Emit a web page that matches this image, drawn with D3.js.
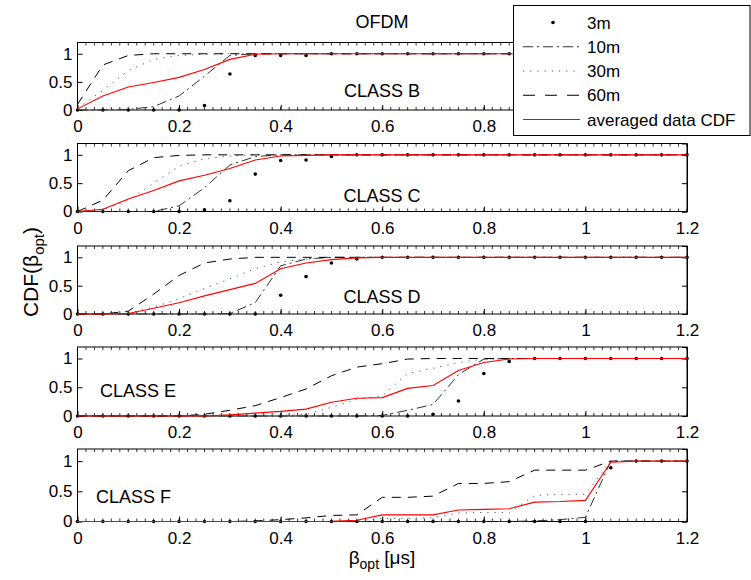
<!DOCTYPE html>
<html>
<head>
<meta charset="utf-8">
<script src="https://cdn.jsdelivr.net/npm/d3@7"></script>
<style>
  body { margin: 0; background: #fff; }
  text { font-family: "Liberation Sans", Arial, Helvetica, sans-serif; fill: #000; }
</style>
</head>
<body>
<div id="wrapper"></div>
<script>
// beta_opt grid [us]
const beta = [0, 0.05, 0.1, 0.15, 0.2, 0.25, 0.3, 0.35, 0.4, 0.45, 0.5, 0.55, 0.6,
  0.65, 0.7, 0.75, 0.8, 0.85, 0.9, 0.95, 1, 1.05, 1.1, 1.15, 1.2];

const classes = ["CLASS B", "CLASS C", "CLASS D", "CLASS E", "CLASS F"];
const seriesNames = ["3m", "10m", "30m", "60m", "averaged data CDF"];
const xTicks = [0, 0.2, 0.4, 0.6, 0.8, 1, 1.2];
const yTicks = [0, 0.5, 1];

const cdf3m = [
  [0, 0, 0, 0, 0, 0.08, 0.64, 0.97, 0.97, 0.97, 1, 1, 1, 1, 1, 1, 1, 1, 1, 1, 1, 1, 1, 1, 1],
  [0, 0, 0, 0, 0, 0.03, 0.19, 0.66, 0.9, 0.91, 0.97, 1, 1, 1, 1, 1, 1, 1, 1, 1, 1, 1, 1, 1, 1],
  [0, 0, 0, 0, 0, 0, 0, 0, 0.33, 0.66, 0.9, 0.97, 1, 1, 1, 1, 1, 1, 1, 1, 1, 1, 1, 1, 1],
  [0, 0, 0, 0, 0, 0, 0, 0, 0, 0, 0, 0, 0, 0, 0.03, 0.26, 0.74, 0.95, 1, 1, 1, 1, 1, 1, 1],
  [0, 0, 0, 0, 0, 0, 0, 0, 0, 0, 0, 0, 0, 0, 0, 0, 0, 0, 0, 0, 0, 0.89, 1, 1, 1],
];
const cdf10m = [
  [0, 0, 0.01, 0.06, 0.25, 0.6, 0.97, 1, 1, 1, 1, 1, 1, 1, 1, 1, 1, 1, 1, 1, 1, 1, 1, 1, 1],
  [0, 0, 0, 0, 0.1, 0.42, 0.82, 0.97, 1, 1, 1, 1, 1, 1, 1, 1, 1, 1, 1, 1, 1, 1, 1, 1, 1],
  [0, 0, 0, 0, 0, 0, 0.01, 0.2, 0.85, 0.97, 1, 1, 1, 1, 1, 1, 1, 1, 1, 1, 1, 1, 1, 1, 1],
  [0, 0, 0, 0, 0, 0, 0, 0, 0, 0, 0, 0, 0.01, 0.1, 0.2, 0.72, 0.99, 1, 1, 1, 1, 1, 1, 1, 1],
  [0, 0, 0, 0, 0, 0, 0, 0, 0, 0, 0, 0, 0, 0, 0, 0, 0, 0, 0.01, 0.03, 0.07, 1, 1, 1, 1],
];
const cdf30m = [
  [0.03, 0.35, 0.7, 0.9, 0.97, 0.99, 1, 1, 1, 1, 1, 1, 1, 1, 1, 1, 1, 1, 1, 1, 1, 1, 1, 1, 1],
  [0, 0.03, 0.2, 0.5, 0.8, 0.93, 0.98, 1, 1, 1, 1, 1, 1, 1, 1, 1, 1, 1, 1, 1, 1, 1, 1, 1, 1],
  [0, 0, 0.01, 0.12, 0.27, 0.45, 0.62, 0.8, 0.92, 0.97, 1, 1, 1, 1, 1, 1, 1, 1, 1, 1, 1, 1, 1, 1, 1],
  [0, 0, 0, 0, 0, 0, 0, 0, 0.01, 0.03, 0.15, 0.29, 0.35, 0.74, 0.83, 0.93, 0.99, 1, 1, 1, 1, 1, 1, 1, 1],
  [0, 0, 0, 0, 0, 0, 0, 0, 0, 0, 0, 0.01, 0.05, 0.05, 0.06, 0.14, 0.15, 0.15, 0.43, 0.45, 0.45, 1, 1, 1, 1],
];
const cdf60m = [
  [0.1, 0.8, 0.97, 1, 1, 1, 1, 1, 1, 1, 1, 1, 1, 1, 1, 1, 1, 1, 1, 1, 1, 1, 1, 1, 1],
  [0, 0.2, 0.72, 0.95, 0.99, 1, 1, 1, 1, 1, 1, 1, 1, 1, 1, 1, 1, 1, 1, 1, 1, 1, 1, 1, 1],
  [0, 0, 0.05, 0.35, 0.68, 0.9, 0.97, 1, 1, 1, 1, 1, 1, 1, 1, 1, 1, 1, 1, 1, 1, 1, 1, 1, 1],
  [0, 0, 0, 0, 0, 0.03, 0.1, 0.18, 0.32, 0.47, 0.7, 0.85, 0.91, 0.99, 1, 1, 1, 1, 1, 1, 1, 1, 1, 1, 1],
  [0, 0, 0, 0, 0, 0, 0, 0.01, 0.03, 0.06, 0.1, 0.11, 0.4, 0.4, 0.42, 0.63, 0.63, 0.66, 0.85, 0.85, 0.85, 1, 1, 1, 1],
];
const cdfAvg = [
  [0.02, 0.25, 0.41, 0.49, 0.58, 0.72, 0.9, 0.99, 1, 1, 1, 1, 1, 1, 1, 1, 1, 1, 1, 1, 1, 1, 1, 1, 1],
  [0, 0.04, 0.22, 0.37, 0.54, 0.64, 0.76, 0.91, 0.98, 0.99, 1, 1, 1, 1, 1, 1, 1, 1, 1, 1, 1, 1, 1, 1, 1],
  [0, 0, 0.01, 0.1, 0.2, 0.32, 0.43, 0.54, 0.8, 0.9, 0.96, 0.99, 1, 1, 1, 1, 1, 1, 1, 1, 1, 1, 1, 1, 1],
  [0, 0, 0, 0, 0, 0, 0.02, 0.05, 0.08, 0.12, 0.24, 0.31, 0.32, 0.48, 0.53, 0.79, 0.93, 0.99, 1, 1, 1, 1, 1, 1, 1],
  [0, 0, 0, 0, 0, 0, 0, 0, 0, 0, 0.005, 0.02, 0.11, 0.11, 0.11, 0.19, 0.2, 0.21, 0.32, 0.33, 0.35, 0.98, 1, 1, 1],
];

function buildChart() {
  const width = 751;
  const height = 580;

  const svg = d3.select("#wrapper").append("svg")
    .attr("width", width)
    .attr("height", height);

  // panel frames [top, bottom] in px
  const panels = [[42.5, 110], [143.5, 211.5], [246, 314], [347, 416], [449, 521.5]];
  const classPos = [
    { x: 382, y: 97, anchor: "middle" },
    { x: 382, y: 202, anchor: "middle" },
    { x: 382, y: 303, anchor: "middle" },
    { x: 100, y: 397, anchor: "start" },
    { x: 96, y: 503, anchor: "start" },
  ];

  const lineStyles = [
    null,
    { stroke: "#333", dash: "10,4,2,4" },
    { stroke: "#555", dash: "1.2,6" },
    { stroke: "#000", dash: "9,7" },
    { stroke: "#ff0000", dash: null },
  ];

  const x = d3.scaleLinear().domain([0, 1.2]).range([77.5, 687]);
  const minorTicks = d3.range(0, 73).map(i => i / 60);

  panels.forEach(([top, bottom], p) => {
    const y = d3.scaleLinear().domain([0, 1.2]).range([bottom, top]);
    const g = svg.append("g");

    // minor ticks top and bottom
    g.selectAll(".mt").data(minorTicks).enter().append("line")
      .attr("x1", d => x(d)).attr("x2", d => x(d))
      .attr("y1", bottom).attr("y2", bottom - 3)
      .attr("stroke", "#000").attr("stroke-width", 0.8);
    g.selectAll(".mt2").data(minorTicks).enter().append("line")
      .attr("x1", d => x(d)).attr("x2", d => x(d))
      .attr("y1", top).attr("y2", top + 3)
      .attr("stroke", "#000").attr("stroke-width", 0.8);

    // top panel: the legend hides the last two labels
    const labelTicks = p === 0 ? xTicks.filter(t => t < 0.9) : xTicks;

    const xAxis = g.append("g").attr("transform", `translate(0,${bottom})`)
      .call(d3.axisBottom(x).tickValues(labelTicks).tickSize(-5).tickPadding(10)
        .tickFormat(d3.format("~g")));
    const yAxis = g.append("g").attr("transform", "translate(77.5,0)")
      .call(d3.axisLeft(y).tickValues(yTicks).tickSize(-5).tickPadding(5)
        .tickFormat(d3.format("~g")));
    g.append("g").attr("transform", "translate(687,0)")
      .call(d3.axisRight(y).tickValues(yTicks).tickSize(-5).tickFormat(""));
    [xAxis, yAxis].forEach(a => {
      a.select(".domain").remove();
      a.selectAll("text").attr("font-size", 17)
        .attr("font-family", "Liberation Sans, Arial, sans-serif");
    });
    g.selectAll(".tick line").attr("stroke", "#000");

    // frame
    g.append("rect")
      .attr("x", 77.5).attr("y", top)
      .attr("width", 687 - 77.5).attr("height", bottom - top)
      .attr("fill", "none").attr("stroke", "#000").attr("stroke-width", 1);

    const curves = [cdf3m[p], cdf10m[p], cdf30m[p], cdf60m[p], cdfAvg[p]];

    // 3m dots
    g.selectAll(".dot").data(curves[0]).enter().append("circle")
      .attr("cx", (d, i) => x(beta[i]))
      .attr("cy", d => y(d))
      .attr("r", 1.8)
      .attr("fill", "#000");

    for (let s = 1; s < 5; s++) {
      const line = d3.line().x((d, i) => x(beta[i])).y(d => y(d));
      g.append("path")
        .datum(curves[s])
        .attr("d", line)
        .attr("fill", "none")
        .attr("stroke", lineStyles[s].stroke)
        .attr("stroke-width", s === 4 ? 1.1 : 1)
        .attr("stroke-dasharray", lineStyles[s].dash);
    }

    g.append("text")
      .attr("x", classPos[p].x).attr("y", classPos[p].y)
      .attr("text-anchor", classPos[p].anchor)
      .attr("font-size", 18)
      .text(classes[p]);
  });

  // title
  svg.append("text")
    .attr("x", 382).attr("y", 28)
    .attr("text-anchor", "middle")
    .attr("font-size", 18)
    .text("OFDM");

  // axis labels
  const xl = svg.append("text")
    .attr("x", 382).attr("y", 564)
    .attr("text-anchor", "middle")
    .attr("font-size", 19);
  xl.append("tspan").text("β");
  xl.append("tspan").attr("font-size", 14).attr("dy", 5).text("opt");
  xl.append("tspan").attr("dy", -5).text(" [μs]");

  const yl = svg.append("text")
    .attr("transform", "translate(38,272) rotate(-90)")
    .attr("text-anchor", "middle")
    .attr("font-size", 21);
  yl.append("tspan").text("CDF(β");
  yl.append("tspan").attr("font-size", 15).attr("dy", 6).text("opt");
  yl.append("tspan").attr("dy", -6).text(")");

  // legend
  const lg = svg.append("g");
  lg.append("rect")
    .attr("x", 513.5).attr("y", 5.5)
    .attr("width", 236.5).attr("height", 130)
    .attr("fill", "#fff").attr("stroke", "#000").attr("stroke-width", 1);

  const ly = d3.scalePoint().domain(seriesNames).range([22.5, 119.5]);
  seriesNames.forEach((name, s) => {
    const cy = ly(name);
    if (s === 0) {
      lg.append("circle").attr("cx", 553).attr("cy", cy).attr("r", 1.8).attr("fill", "#000");
    } else {
      lg.append("line")
        .attr("x1", 523).attr("x2", 580)
        .attr("y1", cy).attr("y2", cy)
        .attr("stroke", lineStyles[s].stroke)
        .attr("stroke-width", 1)
        .attr("stroke-dasharray", s === 3 ? "12,10" : lineStyles[s].dash);
    }
    lg.append("text")
      .attr("x", 587).attr("y", cy + 6)
      .attr("font-size", 17)
      .text(name);
  });
}

buildChart();
</script>
</body>
</html>
